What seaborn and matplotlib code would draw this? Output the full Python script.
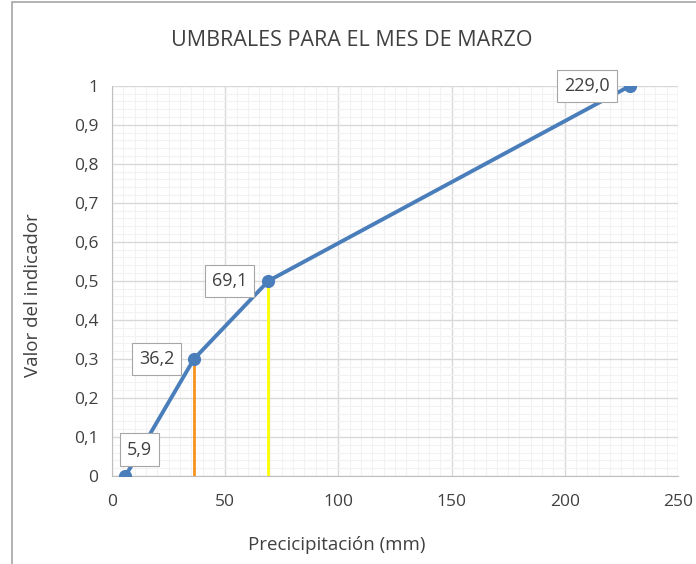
import numpy as np
import pandas as pd
import matplotlib
matplotlib.use("Agg")
import matplotlib.pyplot as plt
import seaborn as sns
from matplotlib.ticker import MultipleLocator, FuncFormatter
from matplotlib.patches import Rectangle

# =========================
# Datos
# =========================
precip = [5.9, 36.2, 69.1, 229.0]
indicador = [0.0, 0.3, 0.5, 1.0]
etiquetas = ["5,9", "36,2", "69,1", "229,0"]
umbral_x = [36.2, 69.1]
umbral_y = [0.3, 0.5]
umbral_colores = ["#F7931E", "#FFFF00"]

df = pd.DataFrame({"x": precip, "y": indicador})

sns.set_style("white")
plt.rcParams["font.family"] = ["Open Sans", "DejaVu Sans"]
texto = "#404040"

fig = plt.figure(figsize=(6.96, 5.64), dpi=100)
ax = fig.add_axes([0.161, 0.156, 0.813, 0.692])

# borde del gráfico
fig.patches.append(Rectangle((12 / 696, -0.1), 1.2, 1.1 - 2 / 564, transform=fig.transFigure,
                             fill=False, edgecolor="#A6A6A6", linewidth=1.2))

# líneas verticales de umbral
for xv, yv, c in zip(umbral_x, umbral_y, umbral_colores):
    ax.plot([xv, xv], [0, yv], color=c, linewidth=2, zorder=2)

sns.lineplot(data=df, x="x", y="y", ax=ax, color="#4A7EBB", linewidth=2.8,
             marker="o", markersize=9.5, markeredgewidth=0, zorder=3)

# etiquetas de datos (desplazamiento en puntos)
offsets = [(10, 19), (-27, 0), (-28, 0), (-31, 0)]
for xv, yv, t, (dx, dy) in zip(precip, indicador, etiquetas, offsets):
    ax.annotate(t, (xv, yv), xytext=(dx, dy), textcoords="offset points",
                ha="center", va="center", fontsize=13, color=texto,
                bbox=dict(boxstyle="square,pad=0.4", fc="white", ec="#A6A6A6", lw=0.8),
                zorder=4)

ax.set_xlim(0, 250)
ax.set_ylim(0, 1)
ax.xaxis.set_major_locator(MultipleLocator(50))
ax.xaxis.set_minor_locator(MultipleLocator(5))
ax.yaxis.set_major_locator(MultipleLocator(0.1))
ax.yaxis.set_minor_locator(MultipleLocator(0.02))
ax.yaxis.set_major_formatter(FuncFormatter(lambda v, p: ("%g" % round(v, 1)).replace(".", ",")))

ax.grid(which="major", color="#D9D9D9", linewidth=1)
ax.grid(which="minor", color="#F2F2F2", linewidth=0.8)
ax.set_axisbelow(True)

for s in ["top", "right"]:
    ax.spines[s].set_visible(False)
for s in ["left", "bottom"]:
    ax.spines[s].set_color("#BFBFBF")

ax.tick_params(axis="x", which="major", length=5, color="#BFBFBF", labelsize=12.5,
               labelcolor=texto, pad=8, direction="out")
ax.tick_params(axis="y", which="major", length=0, labelsize=12.5, labelcolor=texto, pad=10)
ax.tick_params(which="minor", length=0)

ax.set_xlabel("")
ax.set_ylabel("")
fig.text(337 / 696, 1 - 545 / 564, "Precicipitación (mm)", fontsize=13.5, color=texto,
         ha="center", va="center")
fig.text(33 / 696, 1 - 295 / 564, "Valor del indicador", fontsize=13.5, color=texto,
         ha="center", va="center", rotation=90)
fig.text(352 / 696, 1 - 40 / 564, "UMBRALES PARA EL MES DE MARZO", fontsize=15.5,
         color=texto, ha="center", va="center")

plt.savefig("out.png", dpi=100)
